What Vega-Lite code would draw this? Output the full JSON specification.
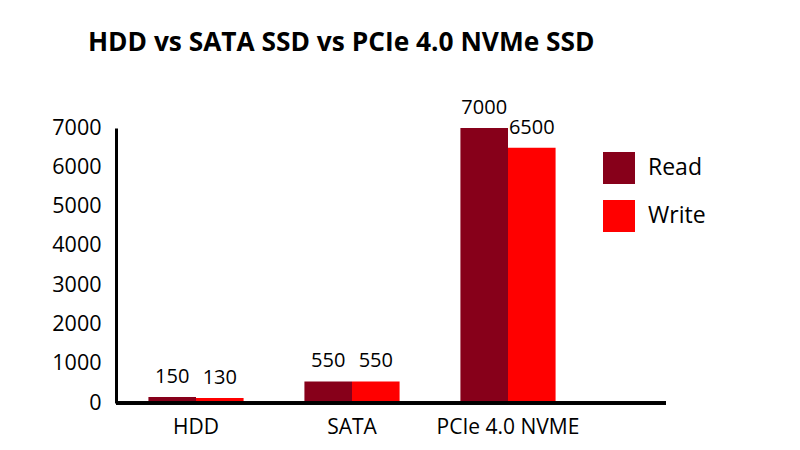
{
  "$schema": "https://vega.github.io/schema/vega-lite/v6.json",
  "autosize": {"type": "none"},
  "padding": {"left": 116, "top": 128, "right": 134, "bottom": 47},
  "width": 550,
  "height": 275,
  "background": "white",
  "title": {
    "text": "HDD vs SATA SSD vs PCIe 4.0 NVMe SSD",
    "font": "Open Sans",
    "fontSize": 26.3,
    "fontWeight": "bold",
    "color": "#000000",
    "anchor": "start",
    "frame": "group",
    "dx": -28,
    "offset": 42
  },
  "data": {
    "values": [
      {"drive": "HDD", "type": "Read", "speed": 150},
      {"drive": "HDD", "type": "Write", "speed": 130},
      {"drive": "SATA", "type": "Read", "speed": 550},
      {"drive": "SATA", "type": "Write", "speed": 550},
      {"drive": "PCIe 4.0 NVME", "type": "Read", "speed": 7000},
      {"drive": "PCIe 4.0 NVME", "type": "Write", "speed": 6500}
    ]
  },
  "layer": [
    {
      "mark": {"type": "bar"},
      "encoding": {
        "x": {"field": "drive", "type": "nominal", "sort": ["HDD", "SATA", "PCIe 4.0 NVME"],
              "scale": {"range": [2, 470], "paddingInner": 0.39, "paddingOuter": 0.195},
              "axis": {"title": null, "domain": false, "ticks": false, "labelAngle": 0, "labelFont": "Open Sans", "labelFontSize": 21, "labelColor": "#000000", "labelPadding": 13}},
        "xOffset": {"field": "type", "type": "nominal", "sort": ["Read", "Write"], "scale": {"paddingInner": 0, "paddingOuter": 0}},
        "y": {"field": "speed", "type": "quantitative", "scale": {"domain": [0, 7000], "nice": false},
              "axis": {"title": null, "values": [0, 1000, 2000, 3000, 4000, 5000, 6000, 7000], "format": "d", "labelOverlap": false, "grid": false, "ticks": false, "tickSize": 0, "domain": true, "domainColor": "#000000", "domainWidth": 3, "labelFont": "Open Sans", "labelFontSize": 21.5, "labelColor": "#000000", "labelPadding": 15}},
        "color": {"field": "type", "type": "nominal", "sort": ["Read", "Write"],
                  "scale": {"domain": ["Read", "Write"], "range": ["#87001a", "#ff0000"]},
                  "legend": {"title": null, "orient": "none", "legendX": 487, "legendY": 24, "symbolType": "square", "symbolSize": 1024, "symbolStrokeWidth": 0, "symbolOpacity": 1, "labelFont": "Open Sans", "labelFontSize": 23, "labelColor": "#000000", "labelOffset": 13, "rowPadding": 16, "padding": 0}}
      }
    },
    {
      "mark": {"type": "text", "font": "Open Sans", "fontSize": 20, "color": "#000000", "dy": -14, "baseline": "alphabetic"},
      "encoding": {
        "x": {"field": "drive", "type": "nominal", "sort": ["HDD", "SATA", "PCIe 4.0 NVME"]},
        "xOffset": {"field": "type", "type": "nominal", "sort": ["Read", "Write"]},
        "y": {"field": "speed", "type": "quantitative",
              "axis": {"title": null, "values": [0, 1000, 2000, 3000, 4000, 5000, 6000, 7000], "format": "d", "labelOverlap": false, "grid": false, "ticks": false, "tickSize": 0, "domain": true, "domainColor": "#000000", "domainWidth": 3, "labelFont": "Open Sans", "labelFontSize": 21.5, "labelColor": "#000000", "labelPadding": 15}},
        "text": {"field": "speed", "type": "quantitative", "format": "d"}
      }
    },
    {
      "mark": {"type": "rule", "color": "#000000", "strokeWidth": 3},
      "encoding": {"y": {"datum": 0,
              "axis": {"title": null, "values": [0, 1000, 2000, 3000, 4000, 5000, 6000, 7000], "format": "d", "labelOverlap": false, "grid": false, "ticks": false, "tickSize": 0, "domain": true, "domainColor": "#000000", "domainWidth": 3, "labelFont": "Open Sans", "labelFontSize": 21.5, "labelColor": "#000000", "labelPadding": 15}}}
    }
  ],
  "config": {"view": {"stroke": null}, "axisY": {"labelOverlap": false, "format": "d"}}
}
